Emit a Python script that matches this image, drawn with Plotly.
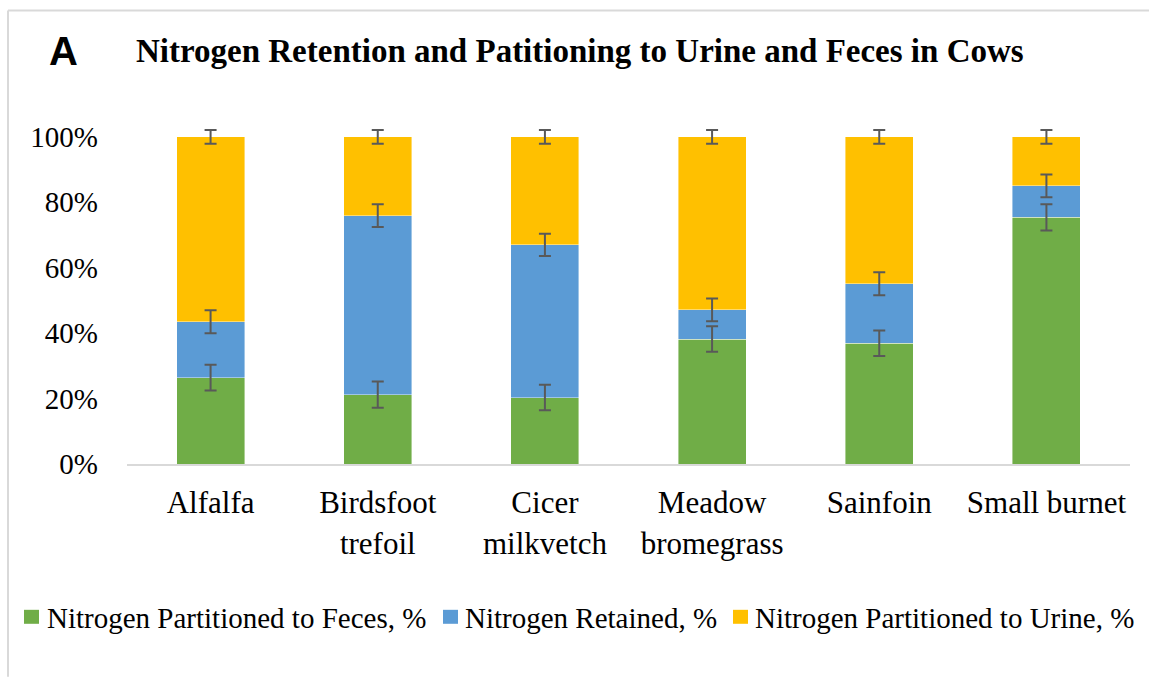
import plotly.graph_objects as go

# ---------------- data ----------------
categories = ["Alfalfa", "Birdsfoot<br>trefoil", "Cicer<br>milkvetch",
              "Meadow<br>bromegrass", "Sainfoin", "Small burnet"]
feces = [26.4, 21.2, 20.3, 38.2, 36.9, 75.4]
retained = [17.1, 54.7, 46.7, 8.9, 18.2, 9.6]
urine = [56.5, 24.1, 33.0, 52.9, 44.9, 15.0]
feces_err = [3.9, 4.0, 3.9, 3.9, 3.9, 4.0]
retained_err = [3.5, 3.5, 3.4, 3.5, 3.5, 3.5]
urine_err = [2.1, 2.1, 2.1, 2.1, 2.1, 2.1]
series_names = ["Nitrogen Partitioned to Feces, %",
                "Nitrogen Retained, %",
                "Nitrogen Partitioned to Urine, %"]
y_ticks = [0, 20, 40, 60, 80, 100]
y_ticktext = ["0%", "20%", "40%", "60%", "80%", "100%"]

# ---------------- style / layout ----------------
W, H = 1149, 677
YMAX = 103                       # headroom so the 100% error caps are not clipped
PX_PER_100 = 327.6               # pixel height of 0..100%
ML, MR, MB = 127, 19, 213
MT = H - MB - PX_PER_100 * YMAX / 100
PW, PH = W - ML - MR, H - MT - MB
colors = ["#70AD47", "#5B9BD5", "#FFC000"]
SERIF = "Times New Roman, Liberation Serif, serif"


def px_x(px):
    return (px - ML) / PW


def px_y(py):
    return (H - MB - py) / PH


fig = go.Figure()
series_vals = [feces, retained, urine]
series_errs = [feces_err, retained_err, urine_err]
for vals, name, col in zip(series_vals, series_names, colors):
    fig.add_trace(go.Bar(
        x=categories, y=vals, name=name,
        marker=dict(color=col, line=dict(width=0.6, color="rgba(255,255,255,0.7)")),
        showlegend=False, hoverinfo="skip",
    ))

# error bars drawn on top of the stacked segments (at cumulative tops)
cum = [0.0] * len(categories)
for vals, errs in zip(series_vals, series_errs):
    cum = [c + v for c, v in zip(cum, vals)]
    fig.add_trace(go.Scatter(
        x=categories, y=cum, mode="markers",
        marker=dict(size=1, opacity=0),
        error_y=dict(type="data", array=errs, visible=True,
                     color="#595959", thickness=2, width=6),
        cliponaxis=False, showlegend=False, hoverinfo="skip",
    ))

fig.update_layout(
    barmode="stack", bargap=0.593,
    width=W, height=H,
    margin=dict(l=ML, r=MR, t=MT, b=MB, autoexpand=False),
    paper_bgcolor="white", plot_bgcolor="white",
    font=dict(family=SERIF, color="#000000"),
    showlegend=False,
)
fig.update_xaxes(
    showline=True, linecolor="#D9D9D9", linewidth=2,
    showgrid=False, ticks="", tickfont=dict(size=31, family=SERIF),
    ticklabelstandoff=10, fixedrange=True,
)
fig.update_yaxes(
    range=[0, YMAX], tickmode="array", tickvals=y_ticks, ticktext=y_ticktext,
    showline=False, showgrid=False, zeroline=False, ticks="",
    tickfont=dict(size=29, family=SERIF), ticklabelstandoff=28, fixedrange=True,
)

# title and panel letter
fig.add_annotation(text="<b>Nitrogen Retention and Patitioning to Urine and Feces in Cows</b>",
                   xref="paper", yref="paper", x=px_x(134), y=px_y(50),
                   xanchor="left", yanchor="middle", showarrow=False,
                   font=dict(size=33, family=SERIF, color="#000000"))
fig.add_annotation(text="<b>A</b>",
                   xref="paper", yref="paper", x=px_x(47), y=px_y(50),
                   xanchor="left", yanchor="middle", showarrow=False,
                   font=dict(size=40, family="Liberation Sans, Arial, sans-serif", color="#000000"))

# manual legend
legend_sq = [(24, 39), (443, 458), (733, 748)]
legend_tx = [45, 463, 753]
for (x0, x1), tx, name, col in zip(legend_sq, legend_tx, series_names, colors):
    fig.add_shape(type="rect", xref="paper", yref="paper",
                  x0=px_x(x0), x1=px_x(x1), y0=px_y(624), y1=px_y(610),
                  fillcolor=col, line=dict(width=0))
    fig.add_annotation(text=name, xref="paper", yref="paper",
                       x=px_x(tx), y=px_y(618), xanchor="left", yanchor="middle",
                       showarrow=False, font=dict(size=29, family=SERIF, color="#000000"))

# frame lines (top and left border of chart area)
fig.add_shape(type="line", xref="paper", yref="paper",
              x0=px_x(8), x1=px_x(W), y0=px_y(10), y1=px_y(10),
              line=dict(color="#D9D9D9", width=2))
fig.add_shape(type="line", xref="paper", yref="paper",
              x0=px_x(8), x1=px_x(8), y0=px_y(10), y1=px_y(H),
              line=dict(color="#D9D9D9", width=2))

fig.write_html("out.html", config={"displayModeBar": False},
               post_script="document.body.style.margin='0';document.body.style.overflow='hidden';")
